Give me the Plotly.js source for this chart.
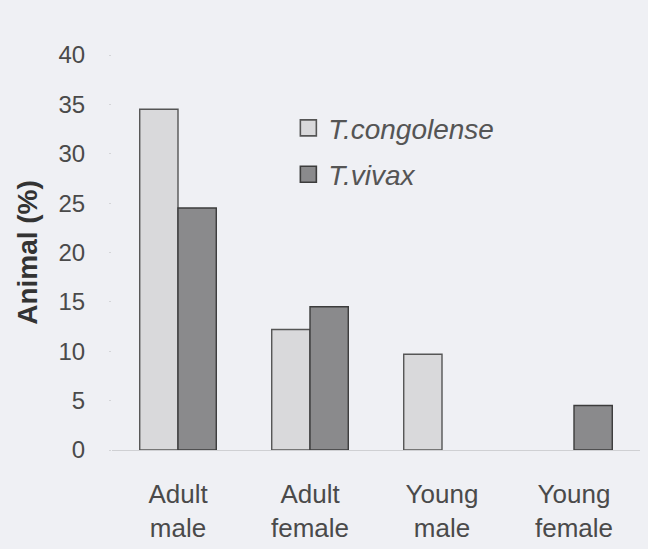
<!DOCTYPE html>
<html>
<head>
<meta charset="utf-8">
<script src="https://cdn.plot.ly/plotly-3.0.1.min.js"></script>
<style>html,body{margin:0;padding:0;background:#eff0f4;}#chart{width:648px;height:549px;}</style>
</head>
<body>
<div id="chart"></div>
<script>
const categories = ["Adult<br>male", "Adult<br>female", "Young<br>male", "Young<br>female"];
const congolense = [34.5, 12.2, 9.7, 0];
const vivax = [24.5, 14.5, 0, 4.5];
const seriesNames = ["T.congolense", "T.vivax"];
const yTicks = [0, 5, 10, 15, 20, 25, 30, 35, 40];

const fills = ["#d9d9db", "#8a8a8c"];
const edges = ["#555555", "#3c3c3c"];
const seriesData = [congolense, vivax];

const traces = [];
seriesData.forEach((vals, i) => {
  traces.push({type: "bar", name: seriesNames[i], x: categories, y: vals, showlegend: false,
    marker: {color: fills[i], line: {color: edges[i], width: vals.map(v => v > 0 ? 1.4 : 0)}}});
});
// legend entries with larger square swatches
seriesData.forEach((vals, i) => {
  traces.push({type: "scatter", mode: "markers", name: seriesNames[i], x: [null], y: [null],
    legendgroup: "g" + i, showlegend: true,
    marker: {symbol: "square", size: 16, color: fills[i], line: {color: edges[i], width: 1.6}}});
});

const layout = {
  width: 648, height: 549,
  paper_bgcolor: "#eff0f4", plot_bgcolor: "#eff0f4",
  margin: {l: 112, r: 8, t: 55, b: 99},
  barmode: "group", bargap: 0.42, bargroupgap: 0,
  font: {family: "Liberation Sans, Arial, sans-serif", color: "#4a4a4a", size: 25},
  showlegend: true,
  legend: {x: 0.334, y: 0.878, xanchor: "left", yanchor: "top",
           bgcolor: "rgba(0,0,0,0)", borderwidth: 0,
           font: {size: 28, color: "#555", style: "italic"},
           traceorder: "grouped", tracegroupgap: 7, itemwidth: 30},
  xaxis: {type: "category", range: [-0.5, 3.5], showgrid: false, zeroline: false,
          showline: true, linecolor: "#cfd0d3", linewidth: 1, ticks: "",
          ticklabelstandoff: 21,
          tickfont: {size: 26, color: "#4a4a4a"}},
  yaxis: {range: [0, 40], tickvals: yTicks, showgrid: false, zeroline: false,
          showline: false, ticks: "outside", ticklen: 2, tickcolor: "#d4d5d8",
          ticklabelstandoff: 19, tickfont: {size: 24, color: "#4a4a4a"},
          title: {text: "<b>Animal (%)</b>", font: {size: 28, color: "#333"}, standoff: 12}}
};

Plotly.newPlot("chart", traces, layout, {displayModeBar: false, staticPlot: true});
</script>
</body>
</html>
